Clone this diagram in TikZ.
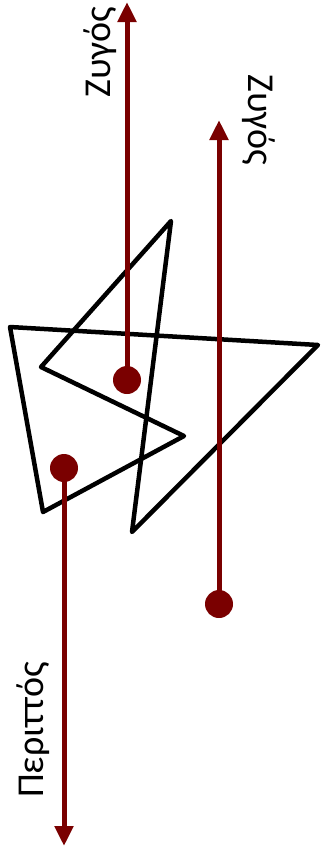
\documentclass[tikz,border=0pt]{standalone}
\usepackage{fontspec}
\setmainfont{Carlito}
\usetikzlibrary{arrows.meta}
\definecolor{maroon}{RGB}{122,0,0}
\begin{document}
\begin{tikzpicture}[x=1pt,y=-1pt,
  outline/.style={draw=black,line width=4.5pt,line join=round},
  ray/.style={draw=maroon,line width=5pt,-{Triangle[length=20pt,width=18pt]}},
  dot/.style={circle,fill=maroon,minimum size=28pt,inner sep=0pt},
  lbl/.style={font=\fontsize{38}{38}\selectfont,inner sep=0pt}]
\useasboundingbox (0,0) rectangle (321,855);
\draw[outline] (10,327) -- (318,345) -- (132,532) -- (171,221) -- (41,367) -- (184,436) -- (43,512) -- cycle;
\node[dot] (d1) at (127,380) {};
\node[dot] (d2) at (219,604) {};
\node[dot] (d3) at (64,468) {};
\coordinate (t1) at (127,2);
\coordinate (t2) at (219,120);
\coordinate (t3) at (64,846);
\draw[ray] (d1.center) -- (t1);
\draw[ray] (d2.center) -- (t2);
\draw[ray] (d3.center) -- (t3);
\node[lbl,rotate=90] (l1) at (100,52) {Ζυγός};
\node[lbl,rotate=-90] (l2) at (259,120) {Ζυγός};
\node[lbl,rotate=90] (l3) at (33,730) {Περιττός};
\end{tikzpicture}
\end{document}
